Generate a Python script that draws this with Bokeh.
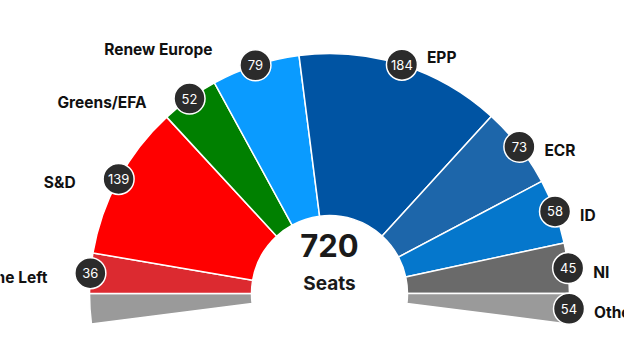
import math
from bokeh.plotting import figure
from bokeh.models import Range1d, ColumnDataSource
from bokeh.core.properties import value
from bokeh.embed import file_html
from bokeh.resources import INLINE

# ---- data ----
groups = ["The Left", "S&D", "Greens/EFA", "Renew Europe", "EPP", "ECR", "ID", "NI"]
group_seats = [36, 139, 52, 79, 184, 73, 58, 45]
group_colors = ["#dc2a30", "#ff0000", "#008000", "#0a9bff", "#0054a3", "#1d66aa", "#0577cc", "#6a6a6a"]
others_name = "Others"
others_seats = 54
others_color = "#9a9a9a"
total_label = "Seats"

# ---- layout constants ----
W, H = 624, 344
CX, CY = 329, 67          # centre (y measured upward, 360 - image y)
R_OUT, R_IN = 240, 78
HALF_SPAN = 97.3          # degrees each side of vertical
FONT = "Inter"

# slices: half of others on each side
names = [None] + groups + [others_name]
seats = [others_seats / 2] + group_seats + [others_seats / 2]
colors = [others_color] + group_colors + [others_color]
shown = [None] + [str(s) for s in group_seats] + [str(others_seats)]

total = sum(seats)
k = 2 * HALF_SPAN / total
a = 90 + HALF_SPAN
starts, ends, mids = [], [], []
for s in seats:
    hi = a
    lo = a - s * k
    starts.append(math.radians(lo))
    ends.append(math.radians(hi))
    mids.append(math.radians((hi + lo) / 2))
    a = lo

p = figure(width=W, height=H, output_backend="svg", toolbar_location=None,
           x_range=Range1d(0, W), y_range=Range1d(360 - H, 360),
           min_border=0, tools="")
p.axis.visible = False
p.grid.visible = False
p.outline_line_color = None
p.background_fill_color = "white"
p.border_fill_color = "white"

src = ColumnDataSource(dict(start=starts, end=ends, color=colors))
p.annular_wedge(x=CX, y=CY, inner_radius=R_IN, outer_radius=R_OUT,
                start_angle="start", end_angle="end", fill_color="color",
                line_color="white", line_width=1.5, source=src)

# bubbles with numbers
bx, by, bt = [], [], []
lx_l, ly_l, lt_l = [], [], []
lx_r, ly_r, lt_r = [], [], []
extra_up = {"Renew Europe": 20, "EPP": 11}
for nm, sh, m in zip(names, shown, mids):
    if sh is None:
        continue
    x = CX + R_OUT * math.cos(m)
    y = CY + R_OUT * math.sin(m)
    bx.append(x); by.append(y); bt.append(sh)
    dy = -4 + extra_up.get(nm, 0)
    if math.cos(m) < 0:
        lx_l.append(x - 43); ly_l.append(y + dy); lt_l.append(nm)
    else:
        lx_r.append(x + 25); ly_r.append(y + dy); lt_r.append(nm)

p.scatter(x=bx, y=by, size=31, marker="circle", fill_color="#2b2b2b",
          line_color="white", line_width=1.5)
p.text(x=bx, y=by, text=bt, text_color="white", text_font=value(FONT),
       text_font_size="13px", text_align="center", text_baseline="middle")

p.text(x=lx_l, y=ly_l, text=lt_l, text_color="#111111", text_font=value(FONT),
       text_font_size="15.5px", text_font_style="bold",
       text_align="right", text_baseline="middle")
p.text(x=lx_r, y=ly_r, text=lt_r, text_color="#111111", text_font=value(FONT),
       text_font_size="15.5px", text_font_style="bold",
       text_align="left", text_baseline="middle")

p.text(x=[CX], y=[CY + 48], text=[str(int(total))], text_color="#1a1a1a",
       text_font=value(FONT), text_font_size="31px", text_font_style="bold",
       text_align="center", text_baseline="middle")
p.text(x=[CX], y=[CY + 10], text=[total_label], text_color="#1a1a1a",
       text_font=value(FONT), text_font_size="19px", text_font_style="bold",
       text_align="center", text_baseline="middle")

open("out.html", "w").write(file_html(p, INLINE))
